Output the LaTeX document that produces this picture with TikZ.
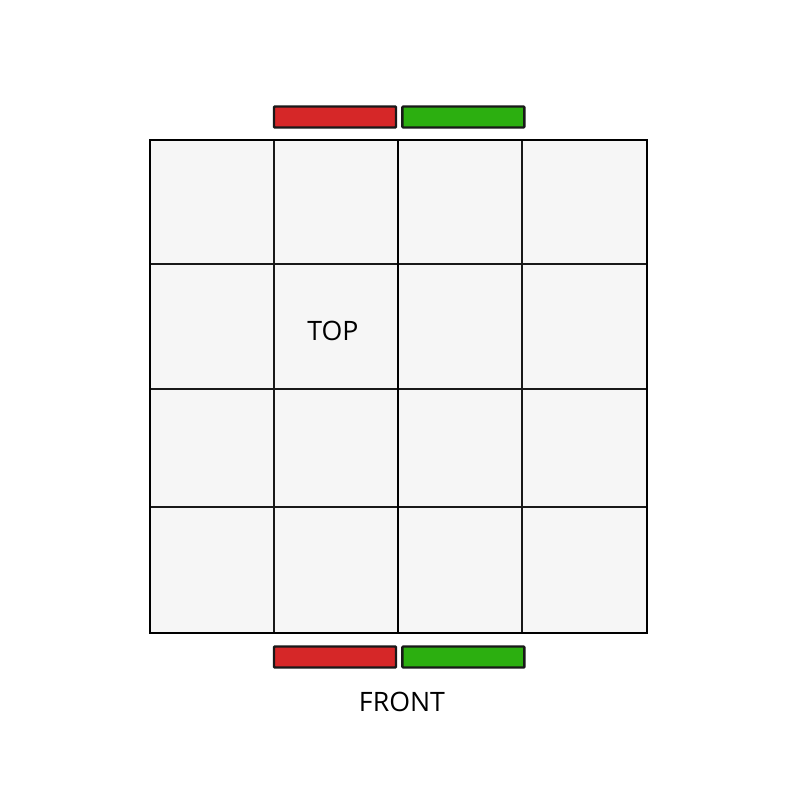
\documentclass[tikz,border=0pt]{standalone}
\usepackage{fontspec}
\setmainfont{Open Sans}
\usetikzlibrary{positioning}
\definecolor{pred}{HTML}{D62728}
\definecolor{pgreen}{HTML}{2CAF10}
\definecolor{pface}{HTML}{F6F6F6}
\newlength{\pxu}\setlength{\pxu}{0.025cm}
\tikzset{
  edgebar/.style={draw=black!90,line width=1.7pt,minimum width=122\pxu,minimum height=21\pxu,inner sep=0pt,rounded corners=0.6pt},
  facelabel/.style={font=\fontsize{19}{22}\selectfont,inner sep=0pt}
}
\begin{document}
\begin{tikzpicture}[x=0.025cm,y=-0.025cm]
\useasboundingbox (0,0) rectangle (800,800);
% top face
\fill[pface] (150,140) rectangle (647,633);
\foreach \gx in {274,398,522} \draw[line width=0.8pt,black!90] (\gx,140) -- (\gx,633);
\foreach \gy in {264,389,507} \draw[line width=0.8pt,black!90] (150,\gy) -- (647,\gy);
\draw[line width=1.2pt] (398,140) -- (398,633);
\draw[line width=1.5pt] (150,140) rectangle (647,633);
\node[facelabel] (top) at (333,331) {TOP};
% edge stickers
\node[edgebar,fill=pred] (tr) at (335,117) {};
\node[edgebar,fill=pgreen,right=4\pxu of tr] (tg) {};
\node[edgebar,fill=pred] (br) at (335,657) {};
\node[edgebar,fill=pgreen,right=4\pxu of br] (bg) {};
\node[facelabel] (front) at (402,702) {FRONT};
\end{tikzpicture}
\end{document}
